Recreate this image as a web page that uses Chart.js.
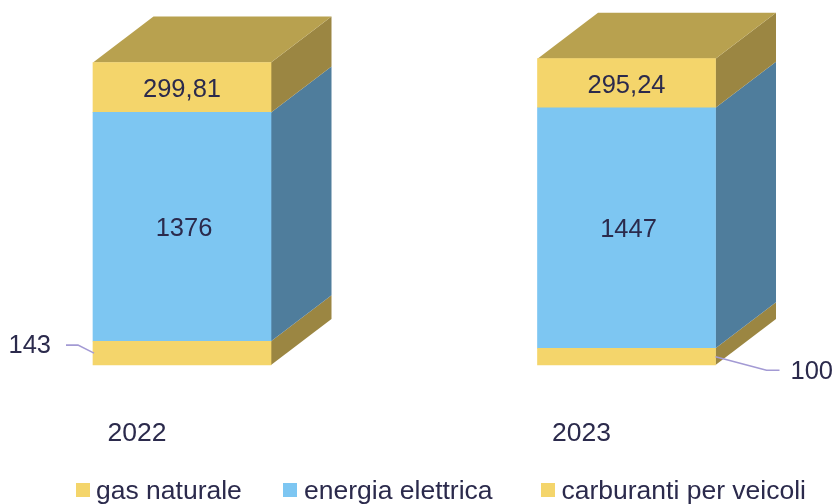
<!DOCTYPE html>
<html lang="it">
<head>
<meta charset="utf-8">
<style>html,body{margin:0;padding:0;background:#fff}canvas{display:block}</style>
<script src="https://cdn.jsdelivr.net/npm/chart.js@4"></script>
</head>
<body>
<canvas id="c" width="834" height="504"></canvas>
<script>
const categories = ['2022', '2023'];
const gasNaturale = [143, 100];
const energiaElettrica = [1376, 1447];
const carburanti = [299.81, 295.24];
const seriesNames = ['gas naturale', 'energia elettrica', 'carburanti per veicoli'];

const FONT = '"Liberation Sans", Arial, sans-serif';
const TEXT = '#2B2A4C';
const FRONT = ['#F4D56B', '#7DC6F2', '#F4D56B'];
const SIDE = ['#9B8642', '#4F7D9C', '#9B8642'];
const TOP = '#B8A14F';
const DEPTH = {x: 60.5, y: -46};
const LEGEND_BOX = [76, 283, 541];
const LEGEND_TEXT = [96, 304, 561.5];
const LABEL_SHIFT = {1: {x: 2, y: 2}, 2: {x: 0, y: 3}};

const fmt = v => String(v).replace('.', ',');

function poly(ctx, pts, color) {
  ctx.beginPath();
  pts.forEach((p, i) => i ? ctx.lineTo(p[0], p[1]) : ctx.moveTo(p[0], p[1]));
  ctx.closePath();
  ctx.fillStyle = color;
  ctx.fill();
}

const box3d = {
  id: 'box3d',
  beforeDatasetsDraw(chart) {
    const ctx = chart.ctx;
    ctx.save();
    chart.data.datasets.forEach((ds, d) => {
      chart.getDatasetMeta(d).data.forEach(el => {
        const r = el.x + el.width / 2, l = el.x - el.width / 2;
        poly(ctx, [[r, el.y], [r + DEPTH.x, el.y + DEPTH.y], [r + DEPTH.x, el.base + DEPTH.y], [r, el.base]], SIDE[d]);
        if (d === chart.data.datasets.length - 1) {
          poly(ctx, [[l, el.y], [l + DEPTH.x, el.y + DEPTH.y], [r + DEPTH.x, el.y + DEPTH.y], [r, el.y]], TOP);
        }
      });
    });
    ctx.restore();
  }
};

const labelsAndLeaders = {
  id: 'labelsAndLeaders',
  afterDatasetsDraw(chart) {
    const ctx = chart.ctx;
    ctx.save();
    ctx.fillStyle = TEXT;
    ctx.textBaseline = 'middle';
    ctx.font = '25.5px ' + FONT;
    ctx.textAlign = 'center';
    [1, 2].forEach(d => {
      chart.getDatasetMeta(d).data.forEach((el, i) => {
        ctx.fillText(fmt(chart.data.datasets[d].data[i]), el.x + LABEL_SHIFT[d].x, (el.y + el.base) / 2 + LABEL_SHIFT[d].y);
      });
    });
    const meta = chart.getDatasetMeta(0).data;
    ctx.strokeStyle = '#A39AD4';
    ctx.lineWidth = 1.6;
    const a = meta[0], ax = a.x - a.width / 2, ay = (a.y + a.base) / 2;
    ctx.beginPath();
    ctx.moveTo(ax + 1, ay);
    ctx.lineTo(ax - 15, ay - 8);
    ctx.lineTo(ax - 27, ay - 8);
    ctx.stroke();
    ctx.textAlign = 'right';
    ctx.fillText(fmt(chart.data.datasets[0].data[0]), ax - 42, ay - 7);
    const b = meta[1], bx = b.x + b.width / 2, by = (b.y + b.base) / 2;
    ctx.beginPath();
    ctx.moveTo(bx, by);
    ctx.lineTo(bx + 51, by + 13.5);
    ctx.lineTo(bx + 64, by + 13.5);
    ctx.stroke();
    ctx.textAlign = 'left';
    ctx.fillText(fmt(chart.data.datasets[0].data[1]), bx + 75, by + 15.5);
    ctx.restore();
  }
};

const bottomLegend = {
  id: 'bottomLegend',
  afterDraw(chart) {
    const ctx = chart.ctx;
    ctx.save();
    ctx.font = '26.5px ' + FONT;
    ctx.textBaseline = 'middle';
    ctx.textAlign = 'left';
    chart.data.datasets.forEach((ds, d) => {
      ctx.fillStyle = ds.backgroundColor;
      ctx.fillRect(LEGEND_BOX[d], 483, 14, 14);
      ctx.fillStyle = TEXT;
      ctx.fillText(ds.label, LEGEND_TEXT[d], 492);
    });
    ctx.restore();
  }
};

const seriesData = [gasNaturale, energiaElettrica, carburanti];

new Chart(document.getElementById('c'), {
  type: 'bar',
  data: {
    labels: categories,
    datasets: seriesData.map((data, d) => ({
      label: seriesNames[d],
      data,
      backgroundColor: FRONT[d],
      barThickness: 178,
      clip: false,
      borderWidth: 0
    }))
  },
  options: {
    responsive: false,
    animation: false,
    layout: {padding: {top: 32.4, left: 0, right: 0, bottom: 0}},
    plugins: {legend: {display: false}, tooltip: {enabled: false}},
    scales: {
      x: {
        stacked: true,
        offset: false,
        grid: {display: false},
        border: {display: false},
        afterFit(s) { s.height = 139; },
        ticks: {
          font: {family: FONT, size: 26.5},
          color: TEXT,
          padding: 45,
          labelOffset: -45,
          autoSkip: false,
          maxRotation: 0
        }
      },
      y: {
        stacked: true,
        min: 0,
        max: 2000,
        grid: {display: false},
        border: {display: false},
        ticks: {display: false},
        afterFit(s) { s.width = 182; }
      },
      yRight: {
        position: 'right',
        min: 0,
        max: 2000,
        grid: {display: false},
        border: {display: false},
        ticks: {display: false},
        afterFit(s) { s.width = 207.5; }
      }
    }
  },
  plugins: [box3d, labelsAndLeaders, bottomLegend]
});
</script>
</body>
</html>
